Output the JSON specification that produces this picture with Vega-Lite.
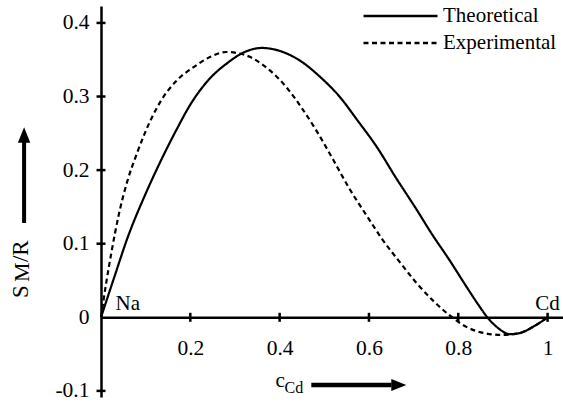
{
  "$schema": "https://vega.github.io/schema/vega-lite/v6.json",
  "width": 462,
  "height": 391,
  "autosize": {"type": "none"},
  "padding": {"left": 101, "top": 6, "right": 0, "bottom": 10},
  "background": "white",
  "config": {
    "view": {"stroke": null},
    "font": "Liberation Serif, Times New Roman, serif"
  },
  "datasets": {
    "curves": [
      {"series": "Theoretical", "x": 0, "y": 0},
      {"series": "Theoretical", "x": 0.03, "y": 0.055},
      {"series": "Theoretical", "x": 0.06, "y": 0.109},
      {"series": "Theoretical", "x": 0.1, "y": 0.168},
      {"series": "Theoretical", "x": 0.135, "y": 0.214},
      {"series": "Theoretical", "x": 0.17, "y": 0.256},
      {"series": "Theoretical", "x": 0.2, "y": 0.289},
      {"series": "Theoretical", "x": 0.24, "y": 0.322},
      {"series": "Theoretical", "x": 0.284, "y": 0.346},
      {"series": "Theoretical", "x": 0.32, "y": 0.36},
      {"series": "Theoretical", "x": 0.36, "y": 0.366},
      {"series": "Theoretical", "x": 0.4, "y": 0.362},
      {"series": "Theoretical", "x": 0.445, "y": 0.349},
      {"series": "Theoretical", "x": 0.49, "y": 0.327},
      {"series": "Theoretical", "x": 0.534, "y": 0.3},
      {"series": "Theoretical", "x": 0.575, "y": 0.267},
      {"series": "Theoretical", "x": 0.617, "y": 0.232},
      {"series": "Theoretical", "x": 0.66, "y": 0.19},
      {"series": "Theoretical", "x": 0.706, "y": 0.147},
      {"series": "Theoretical", "x": 0.74, "y": 0.114},
      {"series": "Theoretical", "x": 0.78, "y": 0.078},
      {"series": "Theoretical", "x": 0.82, "y": 0.04},
      {"series": "Theoretical", "x": 0.845, "y": 0.017},
      {"series": "Theoretical", "x": 0.865, "y": 0},
      {"series": "Theoretical", "x": 0.89, "y": -0.015},
      {"series": "Theoretical", "x": 0.915, "y": -0.023},
      {"series": "Theoretical", "x": 0.94, "y": -0.021},
      {"series": "Theoretical", "x": 0.97, "y": -0.012},
      {"series": "Theoretical", "x": 1, "y": 0},
      {"series": "Experimental", "x": 0, "y": 0},
      {"series": "Experimental", "x": 0.012, "y": 0.048},
      {"series": "Experimental", "x": 0.023, "y": 0.087},
      {"series": "Experimental", "x": 0.04, "y": 0.14},
      {"series": "Experimental", "x": 0.06, "y": 0.187},
      {"series": "Experimental", "x": 0.08, "y": 0.222},
      {"series": "Experimental", "x": 0.098, "y": 0.25},
      {"series": "Experimental", "x": 0.135, "y": 0.295},
      {"series": "Experimental", "x": 0.17, "y": 0.322},
      {"series": "Experimental", "x": 0.21, "y": 0.341},
      {"series": "Experimental", "x": 0.245, "y": 0.354},
      {"series": "Experimental", "x": 0.28, "y": 0.3605},
      {"series": "Experimental", "x": 0.305, "y": 0.359},
      {"series": "Experimental", "x": 0.333, "y": 0.354},
      {"series": "Experimental", "x": 0.36, "y": 0.344},
      {"series": "Experimental", "x": 0.39, "y": 0.329},
      {"series": "Experimental", "x": 0.42, "y": 0.309},
      {"series": "Experimental", "x": 0.45, "y": 0.284},
      {"series": "Experimental", "x": 0.482, "y": 0.254},
      {"series": "Experimental", "x": 0.52, "y": 0.214},
      {"series": "Experimental", "x": 0.557, "y": 0.174},
      {"series": "Experimental", "x": 0.595, "y": 0.138},
      {"series": "Experimental", "x": 0.631, "y": 0.105},
      {"series": "Experimental", "x": 0.669, "y": 0.075},
      {"series": "Experimental", "x": 0.706, "y": 0.047},
      {"series": "Experimental", "x": 0.743, "y": 0.023},
      {"series": "Experimental", "x": 0.78, "y": 0.003},
      {"series": "Experimental", "x": 0.818, "y": -0.013},
      {"series": "Experimental", "x": 0.863, "y": -0.022},
      {"series": "Experimental", "x": 0.9, "y": -0.024},
      {"series": "Experimental", "x": 0.92, "y": -0.023},
      {"series": "Experimental", "x": 0.94, "y": -0.021},
      {"series": "Experimental", "x": 0.97, "y": -0.012},
      {"series": "Experimental", "x": 1, "y": 0}
    ],
    "xticks": [{"x": 0.2}, {"x": 0.4}, {"x": 0.6}, {"x": 0.8}, {"x": 1}],
    "yticks": [{"y": -0.1}, {"y": 0.1}, {"y": 0.2}, {"y": 0.3}, {"y": 0.4}],
    "ends": [
      {"text": "Na", "x": 0.06, "y": 0.0105},
      {"text": "Cd", "x": 1.0, "y": 0.0105}
    ]
  },
  "layer": [
    {
      "data": {"name": "curves"},
      "mark": {"type": "line", "color": "black", "strokeWidth": 2.2, "interpolate": "monotone", "clip": false},
      "encoding": {
        "x": {
          "field": "x", "type": "quantitative",
          "scale": {"domain": [0, 1.0345], "nice": false, "zero": false},
          "axis": {
            "orient": "bottom",
            "offset": {"expr": "scale('y', 0) - height"},
            "values": [0.2, 0.4, 0.6, 0.8, 1],
            "format": "~g",
            "title": null,
            "grid": false,
            "ticks": false,
            "domainColor": "black",
            "domainWidth": 2.5,
            "labelFont": "Liberation Serif, Times New Roman, serif",
            "labelFontSize": 21.5,
            "labelColor": "black",
            "labelPadding": 20,
            "labelFlush": false,
            "labelOverlap": false
          }
        },
        "y": {
          "field": "y", "type": "quantitative",
          "scale": {"domain": [-0.1083, 0.423], "nice": false, "zero": false},
          "axis": {
            "orient": "left",
            "values": [-0.1, 0, 0.1, 0.2, 0.3, 0.4],
            "labelExpr": "datum.value < 0 ? '-' + format(-datum.value, '~g') : format(datum.value, '~g')",
            "title": null,
            "grid": false,
            "ticks": false,
            "domainColor": "black",
            "domainWidth": 2.5,
            "labelFont": "Liberation Serif, Times New Roman, serif",
            "labelFontSize": 21.5,
            "labelColor": "black",
            "labelPadding": 12,
            "labelFlush": false,
            "labelOverlap": false
          }
        },
        "strokeDash": {
          "field": "series", "type": "nominal",
          "scale": {"domain": ["Theoretical", "Experimental"], "range": [[1, 0], [5, 3.5]]},
          "legend": {
            "orient": "none",
            "legendX": 261,
            "legendY": -3.4,
            "title": null,
            "padding": 0,
            "symbolType": "stroke",
            "symbolSize": 5476,
            "symbolStrokeWidth": 2.5,
            "symbolStrokeColor": "black",
            "clipHeight": 26.7,
            "rowPadding": 0,
            "labelOffset": 4,
            "labelFont": "Liberation Serif, Times New Roman, serif",
            "labelFontSize": 21,
            "labelColor": "black",
            "labelLimit": 300
          }
        },
        "detail": {"field": "series"}
      }
    },
    {
      "data": {"name": "xticks"},
      "mark": {"type": "tick", "orient": "vertical", "size": 9, "thickness": 2.5, "color": "black", "opacity": 1},
      "encoding": {
        "x": {"field": "x", "type": "quantitative"},
        "y": {"datum": 0, "type": "quantitative"}
      }
    },
    {
      "data": {"name": "yticks"},
      "mark": {"type": "tick", "orient": "horizontal", "size": 9, "thickness": 2.5, "color": "black", "opacity": 1},
      "encoding": {
        "x": {"datum": 0, "type": "quantitative"},
        "y": {"field": "y", "type": "quantitative"}
      }
    },
    {
      "data": {"name": "ends"},
      "mark": {"type": "text", "font": "Liberation Serif, Times New Roman, serif", "fontSize": 21, "color": "black", "align": "center", "baseline": "alphabetic"},
      "encoding": {
        "x": {"field": "x", "type": "quantitative"},
        "y": {"field": "y", "type": "quantitative"},
        "text": {"field": "text"}
      }
    },
    {
      "data": {"values": [{"label": "y title"}]},
      "mark": {"type": "text", "text": "S", "font": "Liberation Serif, Times New Roman, serif", "fontSize": 23, "color": "black", "angle": 270, "align": "left", "baseline": "alphabetic"},
      "encoding": {
        "x": {"datum": -0.1644, "type": "quantitative"},
        "y": {"datum": 0.0262, "type": "quantitative"}
      }
    },
    {
      "data": {"values": [{"label": "y title"}]},
      "mark": {"type": "text", "text": "M", "font": "Liberation Serif, Times New Roman, serif", "fontSize": 22, "color": "black", "angle": 270, "align": "left", "baseline": "alphabetic", "dx": 16, "dy": 1},
      "encoding": {
        "x": {"datum": -0.1644, "type": "quantitative"},
        "y": {"datum": 0.0262, "type": "quantitative"}
      }
    },
    {
      "data": {"values": [{"label": "y title"}]},
      "mark": {"type": "text", "text": "/R", "font": "Liberation Serif, Times New Roman, serif", "fontSize": 23, "color": "black", "angle": 270, "align": "left", "baseline": "alphabetic", "dx": 36},
      "encoding": {
        "x": {"datum": -0.1644, "type": "quantitative"},
        "y": {"datum": 0.0262, "type": "quantitative"}
      }
    },
    {
      "data": {"values": [{"label": "y arrow"}]},
      "mark": {"type": "rule", "color": "black", "strokeWidth": 4},
      "encoding": {
        "x": {"datum": -0.1722, "type": "quantitative"},
        "y": {"datum": 0.1281, "type": "quantitative"},
        "y2": {"datum": 0.2409}
      }
    },
    {
      "data": {"values": [{"label": "y arrow head"}]},
      "mark": {"type": "point", "shape": "M0,-1L0.8,1L-0.8,1Z", "size": 240, "filled": true, "color": "black", "opacity": 1, "strokeWidth": 0},
      "encoding": {
        "x": {"datum": -0.1722, "type": "quantitative"},
        "y": {"datum": 0.2477, "type": "quantitative"}
      }
    },
    {
      "data": {"values": [{"label": "x title"}]},
      "mark": {"type": "text", "text": "c", "font": "Liberation Serif, Times New Roman, serif", "fontSize": 21, "color": "black", "align": "left", "baseline": "alphabetic"},
      "encoding": {
        "x": {"datum": 0.391, "type": "quantitative"},
        "y": {"datum": -0.0943, "type": "quantitative"}
      }
    },
    {
      "data": {"values": [{"label": "x title"}]},
      "mark": {"type": "text", "text": "Cd", "font": "Liberation Serif, Times New Roman, serif", "fontSize": 16, "color": "black", "align": "left", "baseline": "alphabetic", "dx": 9, "dy": 6.3},
      "encoding": {
        "x": {"datum": 0.391, "type": "quantitative"},
        "y": {"datum": -0.0943, "type": "quantitative"}
      }
    },
    {
      "data": {"values": [{"label": "x arrow"}]},
      "mark": {"type": "rule", "color": "black", "strokeWidth": 4.5},
      "encoding": {
        "x": {"datum": 0.4709, "type": "quantitative"},
        "x2": {"datum": 0.6507},
        "y": {"datum": -0.092, "type": "quantitative"}
      }
    },
    {
      "data": {"values": [{"label": "x arrow head"}]},
      "mark": {"type": "point", "shape": "M1,0L-1,-0.8L-1,0.8Z", "size": 225, "filled": true, "color": "black", "opacity": 1, "strokeWidth": 0},
      "encoding": {
        "x": {"datum": 0.6668, "type": "quantitative"},
        "y": {"datum": -0.092, "type": "quantitative"}
      }
    }
  ]
}
